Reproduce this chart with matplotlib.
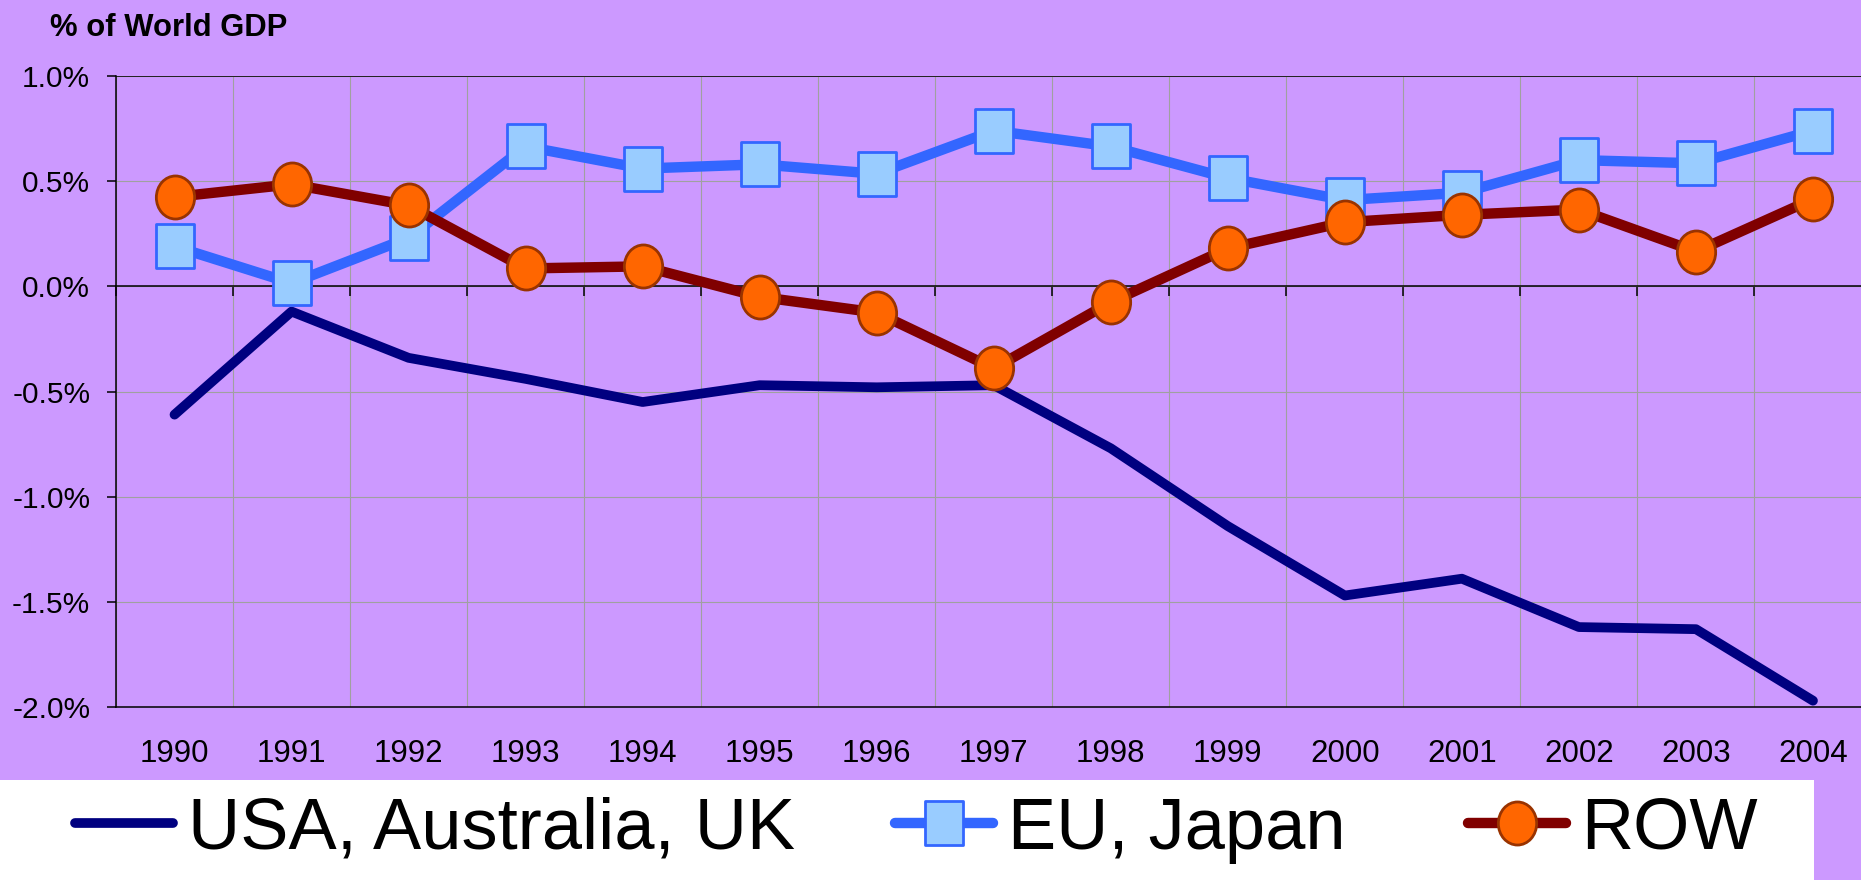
import numpy as np
import matplotlib
matplotlib.use("Agg")
import matplotlib.pyplot as plt
from matplotlib.path import Path
from matplotlib.patches import Rectangle
from matplotlib import font_manager

plt.rcParams['font.family'] = ['Liberation Sans', 'DejaVu Sans']

years = ["1990", "1991", "1992", "1993", "1994", "1995", "1996", "1997",
         "1998", "1999", "2000", "2001", "2002", "2003", "2004"]
usa_aus_uk = [-0.61, -0.12, -0.34, -0.44, -0.55, -0.47, -0.48, -0.47,
              -0.77, -1.14, -1.47, -1.39, -1.62, -1.63, -1.97]
eu_japan = [0.19, 0.015, 0.23, 0.665, 0.56, 0.58, 0.535, 0.74,
            0.665, 0.515, 0.41, 0.445, 0.60, 0.585, 0.74]
row = [0.425, 0.485, 0.385, 0.085, 0.095, -0.05, -0.125, -0.39,
       -0.075, 0.18, 0.305, 0.34, 0.365, 0.165, 0.415]
y_ticks = [-2.0, -1.5, -1.0, -0.5, 0.0, 0.5, 1.0]

W, H = 1861, 880
bg = "#CC99FF"

# legend text in the original is a narrow face; use it if present
installed = {f.name for f in font_manager.fontManager.ttflist}
if 'Liberation Sans Narrow' in installed:
    leg_font = {'family': ['Liberation Sans Narrow', 'DejaVu Sans'], 'size': 58}
else:
    leg_font = {'family': ['Liberation Sans', 'DejaVu Sans'], 'size': 52}

# markers are a bit narrower than tall in the original
circ = Path.unit_circle()
ellipse = Path(circ.vertices * [0.89, 1.0], circ.codes)
box = Path([(-0.445, -0.5), (0.445, -0.5), (0.445, 0.5), (-0.445, 0.5), (-0.445, -0.5)],
           [Path.MOVETO, Path.LINETO, Path.LINETO, Path.LINETO, Path.CLOSEPOLY])

fig = plt.figure(figsize=(W / 100, H / 100), dpi=100, facecolor=bg)
ax = fig.add_axes([116 / W, 1 - 707 / H, 1755.5 / W, (707 - 76) / H])
ax.set_facecolor(bg)

x = np.arange(len(years))
l1, = ax.plot(x, usa_aus_uk, color="#000080", lw=7, solid_capstyle='round',
              solid_joinstyle='round', zorder=3, label="USA, Australia, UK")
l2, = ax.plot(x, eu_japan, color="#3366FF", lw=7.5, solid_capstyle='round',
              solid_joinstyle='round', marker=box, ms=31, mfc="#99CCFF",
              mec="#3366FF", mew=2, zorder=4, label="EU, Japan")
l3, = ax.plot(x, row, color="#800000", lw=7.5, solid_capstyle='round',
              solid_joinstyle='round', marker=ellipse, ms=31, mfc="#FF6600",
              mec="#993300", mew=2, zorder=5, label="ROW")

ax.set_xlim(-0.5, len(years) - 0.5)
ax.set_ylim(-2.0, 1.0)
ax.set_yticks(y_ticks, labels=[f"{v:.1f}%" for v in y_ticks])
ax.set_xticks(x, labels=years)
ax.set_xticks(np.arange(-0.5, len(years)), minor=True)

ax.grid(axis='x', which='minor', color="#A0A0A0", lw=0.8)
ax.grid(axis='y', which='major', color="#A0A0A0", lw=0.8)
ax.set_axisbelow(True)

# category axis crosses at 0, tick marks hang below that line
ax.spines['top'].set_position(('data', 0))
for s in ax.spines.values():
    s.set_color("black")
    s.set_linewidth(1.1)
ax.axhline(1.0, color="black", lw=1.1, zorder=2)

ax.tick_params(axis='x', which='major', bottom=True, top=False, length=0,
               pad=23, labelsize=22.5)
ax.tick_params(axis='x', which='minor', bottom=False, top=True, labeltop=False,
               direction='in', length=7, width=1.1, color="black")
ax.tick_params(axis='y', which='major', right=False, direction='out', length=6.5,
               width=1.1, pad=12, labelsize=21.5)

fig.text(50 / W, 1 - 36 / H, "% of World GDP", fontsize=22.3, fontweight='bold',
         ha='left', va='baseline')

# white legend strip
fig.add_artist(Rectangle((0, 0), 1814 / W, 100 / H, transform=fig.transFigure,
                         facecolor="white", edgecolor="none", zorder=0))
hl = 98 / (leg_font['size'] * 100 / 72)
tp = 15 / (leg_font['size'] * 100 / 72)
leg_x = [75, 895, 1468]
for line, lx in zip([l1, l2, l3], leg_x):
    fig.legend(handles=[line], loc='center left',
               bbox_to_anchor=(lx / W, 1 - 830 / H), frameon=False,
               borderpad=0, borderaxespad=0, handlelength=hl,
               handletextpad=tp, numpoints=1, prop=leg_font)

fig.savefig("out.png", dpi=100, facecolor=bg)
